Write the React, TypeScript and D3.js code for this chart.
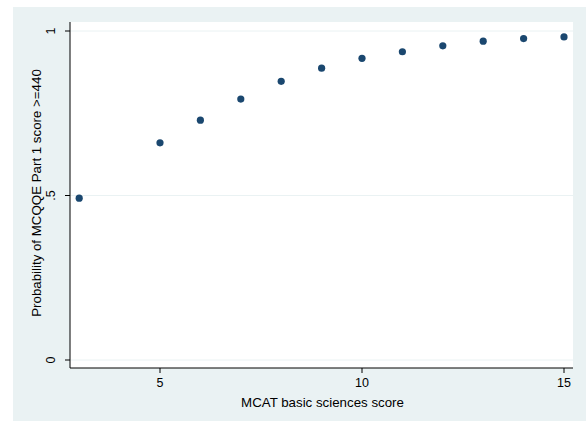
import React from "react";
import * as d3 from "d3";

const scores = [3, 5, 6, 7, 8, 9, 10, 11, 12, 13, 14, 15];
const probs = [0.492, 0.66, 0.729, 0.793, 0.847, 0.887, 0.917, 0.937, 0.955, 0.969, 0.977, 0.982];
const xTicks = [5, 10, 15];
const yTicks = [0, 0.5, 1];
const yTickLabels = ["0", ".5", "1"];

export default function App() {
  const W = 586, H = 421;
  const x = d3.scaleLinear().domain([5, 15]).range([160, 564]);
  const y = d3.scaleLinear().domain([0, 1]).range([360, 31]);
  const plotL = 70, plotR = 573, plotT = 22, plotB = 368;
  const font = "Liberation Sans, Arial, sans-serif";
  return (
    <svg width={W} height={H} style={{ position: "absolute", left: 0, top: 0 }}>
      <rect x={13} y={7} width={W - 13} height={H - 7} fill="#eaf2f3" />
      <rect x={plotL} y={plotT} width={plotR - plotL} height={plotB - plotT} fill="#ffffff" />
      {yTicks.map((t) => (
        <line key={"g" + t} x1={plotL} x2={plotR} y1={y(t)} y2={y(t)} stroke="#eaf2f3" strokeWidth={1} />
      ))}
      <line x1={plotL} x2={plotL} y1={plotT} y2={plotB} stroke="#000" strokeWidth={1} />
      <line x1={plotL} x2={plotR} y1={plotB} y2={plotB} stroke="#000" strokeWidth={1} />
      {yTicks.map((t, i) => (
        <g key={"y" + t}>
          <line x1={plotL - 5} x2={plotL} y1={y(t)} y2={y(t)} stroke="#000" />
          <text
            transform={`translate(${55},${y(t)}) rotate(-90)`}
            textAnchor="middle"
            fontFamily={font}
            fontSize={12.5}
            fill="#000"
          >
            {yTickLabels[i]}
          </text>
        </g>
      ))}
      {xTicks.map((t) => (
        <g key={"x" + t}>
          <line x1={x(t)} x2={x(t)} y1={plotB} y2={plotB + 5} stroke="#000" />
          <text x={x(t)} y={plotB + 19} textAnchor="middle" fontFamily={font} fontSize={12.5} fill="#000">
            {t}
          </text>
        </g>
      ))}
      <text x={322.5} y={407} textAnchor="middle" fontFamily={font} fontSize={13.3} fill="#000">
        MCAT basic sciences score
      </text>
      <text
        transform={`translate(${41},${193}) rotate(-90)`}
        textAnchor="middle"
        fontFamily={font}
        fontSize={13.3}
        fill="#000"
      >
        Probability of MCQQE Part 1 score &gt;=440
      </text>
      {scores.map((s, i) => (
        <circle key={s} cx={x(s)} cy={y(probs[i])} r={3.6} fill="#1a476f" />
      ))}
    </svg>
  );
}
